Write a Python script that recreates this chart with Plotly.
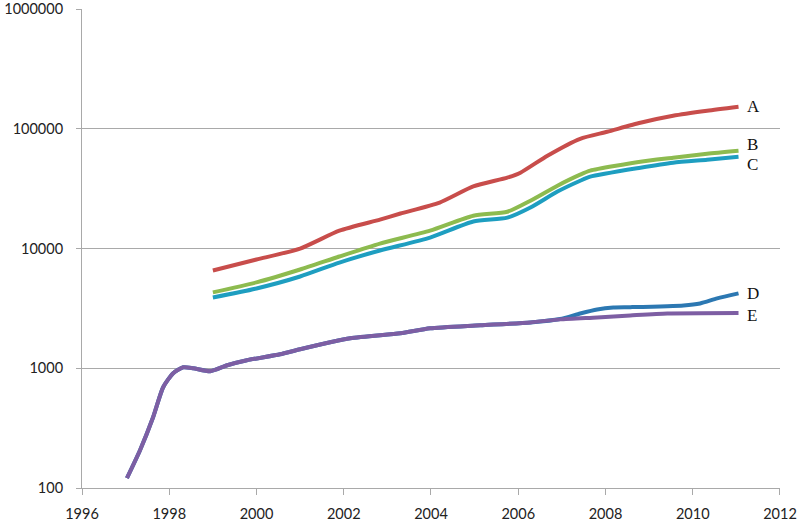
import math
import plotly.graph_objects as go

# ---- data ----
years_A = [1999.0, 2000.0, 2001.0, 2001.9, 2002.83, 2003.3, 2004.2, 2004.97, 2005.75, 2006.05, 2006.67, 2007.42, 2008.04, 2008.8, 2009.55, 2010.33, 2011.05]
vals_A = [6560, 8090, 10000, 14100, 17450, 19600, 24200, 33000, 39100, 43000, 59600, 82500, 94400, 112200, 128300, 141300, 152500]

years_B = [1999.0, 2000.0, 2001.0, 2001.9, 2002.83, 2003.98, 2004.97, 2005.75, 2006.28, 2006.9, 2007.42, 2007.65, 2008.8, 2009.55, 2010.33, 2011.05]
vals_B = [4300, 5210, 6680, 8580, 11000, 14100, 18800, 20300, 25100, 33500, 41400, 44700, 53100, 57300, 61900, 65600]

years_C = [1999.0, 2000.0, 2001.0, 2001.9, 2002.83, 2003.98, 2004.97, 2005.75, 2006.28, 2006.9, 2007.42, 2007.65, 2008.8, 2009.55, 2010.33, 2011.05]
vals_C = [3900, 4640, 5840, 7640, 9620, 12350, 16800, 18100, 22000, 29900, 36800, 39800, 47300, 52100, 55200, 58400]

years_E = [1997.03, 1997.33, 1997.63, 1997.86, 1998.09, 1998.32, 1998.55, 1998.94, 1999.33, 1999.78, 2000.54, 2001.0, 2002.15, 2003.3, 2003.98, 2005.13, 2006.28, 2006.96, 2007.81, 2008.57, 2009.42, 2011.05]
vals_E = [121, 207, 390, 694, 909, 1019, 1000, 944, 1059, 1166, 1308, 1440, 1778, 1958, 2154, 2282, 2416, 2560, 2660, 2764, 2872, 2900]

years_D = [1997.03, 1997.33, 1997.63, 1997.86, 1998.09, 1998.32, 1998.55, 1998.94, 1999.33, 1999.78, 2000.54, 2001.0, 2002.15, 2003.3, 2003.98, 2005.13, 2006.28, 2006.96, 2007.42, 2007.81, 2008.18, 2008.57, 2009.79, 2010.17, 2010.56, 2011.05]
vals_D = [121, 207, 390, 694, 909, 1019, 1000, 944, 1059, 1166, 1308, 1440, 1778, 1958, 2154, 2282, 2416, 2580, 2870, 3100, 3220, 3240, 3350, 3480, 3830, 4220]

series = [
    ("A", years_A, vals_A, "#C84D4B", 0),
    ("B", years_B, vals_B, "#8DBB4F", 6),
    ("C", years_C, vals_C, "#1E9EC0", -8),
    ("D", years_D, vals_D, "#2C78B2", 0),
    ("E", years_E, vals_E, "#7D5EA3", -3),
]
draw_order = ["D", "E", "C", "B", "A"]

y_ticks = [100, 1000, 10000, 100000, 1000000]
y_ticktext = ["100", "1000", "10000", "100000", "1000000"]
x_ticks = [1996, 1998, 2000, 2002, 2004, 2006, 2008, 2010, 2012]

fig = go.Figure()
lookup = {s[0]: s for s in series}
for name in draw_order:
    _, xs, ys, col, _ = lookup[name]
    fig.add_trace(go.Scatter(x=xs, y=ys, mode="lines", name=name,
                             line=dict(color=col, width=4, shape="spline", smoothing=0.6),
                             showlegend=False, hoverinfo="skip"))

for name, xs, ys, col, shift in series:
    fig.add_annotation(x=2011.2, y=math.log10(ys[-1]), xref="x", yref="y", text=name,
                       showarrow=False, xanchor="left", yanchor="middle", yshift=shift,
                       font=dict(family="Liberation Serif, Times New Roman, serif", size=17, color="#111111"))

grid = "#A9A9A9"
fig.update_layout(
    width=800, height=525,
    margin=dict(l=82, r=20, t=9, b=37),
    paper_bgcolor="white", plot_bgcolor="white",
    font=dict(family="Lato, Open Sans, sans-serif", size=14.5, color="#222222"),
)
fig.update_xaxes(range=[1996, 2012.001], tickvals=x_ticks, showgrid=False, zeroline=False,
                 showline=True, linecolor=grid, linewidth=1,
                 ticks="outside", ticklen=6, tickcolor=grid, ticklabelstandoff=7,
                 ticklabeloverflow="allow", automargin=False)
fig.update_yaxes(type="log", range=[2, 6.0005], tickvals=y_ticks, ticktext=y_ticktext,
                 showgrid=True, gridcolor=grid, gridwidth=1, zeroline=False,
                 showline=True, linecolor=grid, linewidth=1,
                 ticks="outside", ticklen=5, tickcolor=grid, ticklabelstandoff=10,
                 ticklabeloverflow="allow", automargin=False)

fig.write_html("out.html", config={"displayModeBar": False},
               post_script="document.body.style.margin='0';document.body.style.padding='0';")
